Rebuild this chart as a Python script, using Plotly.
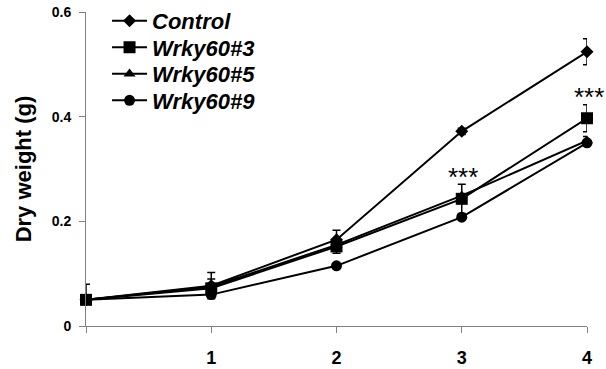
import plotly.graph_objects as go

weeks = [0, 1, 2, 3, 4]
x_tick_vals = [0, 1, 2, 3, 4]
x_tick_text = ["", "1", "2", "3", "4"]
y_tick_vals = [0, 0.2, 0.4, 0.6]
y_tick_text = ["0", "0.2", "0.4", "0.6"]

control = [0.050, 0.077, 0.165, 0.372, 0.524]
control_err_up = [0.030, 0.025, 0.018, 0.006, 0.025]
control_err_down = [0.0, 0.025, 0.018, 0.006, 0.025]
wrky3 = [0.050, 0.072, 0.152, 0.243, 0.397]
wrky3_err = [0.0, 0.018, 0.013, 0.028, 0.026]
wrky5 = [0.050, 0.075, 0.155, 0.249, 0.354]
wrky5_err = [0.0, 0.0, 0.0, 0.0, 0.008]
wrky9 = [0.050, 0.060, 0.115, 0.208, 0.350]
wrky9_err = [0.0, 0.0, 0.0, 0.0, 0.0]

sig_x = [3, 4]
sig_y = [0.292, 0.445]
sig_text = ["***", "***"]

# (name, values, err up, err down, symbol, size, legend id)
series = [
    ("Control", control, control_err_up, control_err_down, "diamond", 10, "legend"),
    ("Wrky60#9", wrky9, wrky9_err, wrky9_err, "circle", 11, "legend4"),
    ("Wrky60#5", wrky5, wrky5_err, wrky5_err, "triangle-up", 10.5, "legend3"),
    ("Wrky60#3", wrky3, wrky3_err, wrky3_err, "square", 12, "legend2"),
]

fig = go.Figure()
for name, vals, eup, edn, sym, size, leg in series:
    fig.add_trace(go.Scatter(
        x=weeks, y=vals, name=name, mode="lines+markers",
        line=dict(color="black", width=2),
        marker=dict(symbol=sym, size=size, color="black"),
        error_y=dict(type="data", symmetric=False, array=eup, arrayminus=edn,
                     visible=True, color="black", thickness=1.5, width=4),
        legend=leg, cliponaxis=False,
    ))

for sx, sy, st in zip(sig_x, sig_y, sig_text):
    fig.add_annotation(x=sx, y=sy, xref="x", yref="y", text=st, showarrow=False,
                       xshift=2 if sx == 4 else 1, yshift=-4,
                       font=dict(family="Liberation Sans", size=26, color="black"))

axis_common = dict(showline=True, linecolor="#808080", linewidth=1,
                   ticks="outside", tickcolor="#808080", ticklen=6, tickwidth=1,
                   showgrid=False, zeroline=False, automargin=False)

legend_style = dict(xanchor="left", yanchor="middle", bgcolor="rgba(0,0,0,0)",
                    font=dict(size=22, weight="bold", style="italic"),
                    itemwidth=35)
plot_top, plot_h = 12, 314
row_centers = [21, 47.5, 74, 100.5]

layout_legends = {}
for i, key in enumerate(["legend", "legend2", "legend3", "legend4"]):
    yc = 1 - (row_centers[i] - plot_top) / plot_h
    layout_legends[key] = dict(x=0.042, y=yc, **legend_style)

fig.update_layout(
    width=606, height=369,
    margin=dict(l=86, r=19, t=12, b=43, autoexpand=False),
    plot_bgcolor="white", paper_bgcolor="white",
    font=dict(family="Liberation Sans", color="black"),
    xaxis=dict(range=[0, 4], tickvals=x_tick_vals, ticktext=x_tick_text,
               tickfont=dict(size=18, weight="bold"), ticklabelstandoff=9,
               **axis_common),
    yaxis=dict(range=[0, 0.6], tickvals=y_tick_vals, ticktext=y_tick_text,
               tickfont=dict(size=14, weight="bold"), ticklabelstandoff=5,
               title=dict(text="Dry weight (g)", font=dict(size=22, weight="bold"),
                          standoff=14),
               **axis_common),
    showlegend=True,
    **layout_legends,
)

fig.write_html("out.html")
